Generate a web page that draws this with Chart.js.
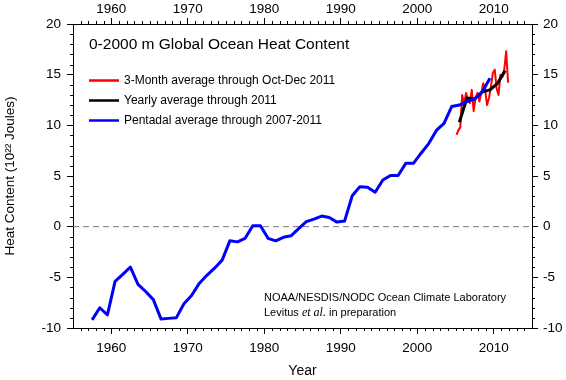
<!DOCTYPE html>
<html>
<head>
<meta charset="utf-8">
<title>0-2000 m Global Ocean Heat Content</title>
<script src="https://cdn.jsdelivr.net/npm/chart.js@4.4.1/dist/chart.umd.min.js"></script>
<style>
    html, body { margin: 0; padding: 0; background: #fff; }
    #wrap { width: 566px; height: 380px; }
</style>
</head>
<body>
<div id="wrap"><canvas id="ohcChart" width="566" height="380"></canvas></div>
<script>
// Pentadal average (centre of each 5-year window)
const pentadYears = [
    1957.5, 1958.5, 1959.5, 1960.5, 1961.5, 1962.5, 1963.5, 1964.5, 1965.5, 1966.5,
    1967.5, 1968.5, 1969.5, 1970.5, 1971.5, 1972.5, 1973.5, 1974.5, 1975.5, 1976.5,
    1977.5, 1978.5, 1979.5, 1980.5, 1981.5, 1982.5, 1983.5, 1984.5, 1985.5, 1986.5,
    1987.5, 1988.5, 1989.5, 1990.5, 1991.5, 1992.5, 1993.5, 1994.5, 1995.5, 1996.5,
    1997.5, 1998.5, 1999.5, 2000.5, 2001.5, 2002.5, 2003.5, 2004.5, 2005.5, 2006.5,
    2007.5, 2008.5, 2009.5
];
const pentadValues = [
    -9.2, -8.0, -8.7, -5.4, -4.7, -4.0, -5.7, -6.4, -7.2, -9.1,
    -9.05, -9.0, -7.6, -6.8, -5.6, -4.8, -4.1, -3.3, -1.4, -1.5,
    -1.15, 0.1, 0.1, -1.15, -1.4, -1.05, -0.9, -0.2, 0.5, 0.75,
    1.05, 0.9, 0.45, 0.55, 3.05, 3.95, 3.9, 3.4, 4.6, 5.05,
    5.05, 6.25, 6.25, 7.25, 8.2, 9.5, 10.2, 11.85, 12.0, 12.35,
    12.6, 13.3, 14.65
];

// Yearly average
const yearlyYears = [2005.5, 2006.5, 2007.5, 2008.5, 2009.5, 2010.5, 2011.5];
const yearlyValues = [10.3, 12.7, 12.6, 13.3, 13.5, 14.15, 15.4];

// 3-month average
const quarterYears = [
    2005.125, 2005.375, 2005.625, 2005.875, 2006.125, 2006.375, 2006.625, 2006.875,
    2007.125, 2007.375, 2007.625, 2007.875, 2008.125, 2008.375, 2008.625, 2008.875,
    2009.125, 2009.375, 2009.625, 2009.875, 2010.125, 2010.375, 2010.625, 2010.875,
    2011.125, 2011.375, 2011.625, 2011.875
];
const quarterValues = [
    9.05, 9.5, 9.8, 13.0, 12.0, 13.2, 12.5, 12.2,
    13.5, 11.4, 12.7, 13.2, 12.35, 13.2, 14.15, 13.5,
    12.0, 12.7, 13.8, 15.15, 15.5, 13.65, 13.0, 15.0,
    14.8, 15.5, 17.3, 14.2
];

const xTickValues = [1960, 1970, 1980, 1990, 2000, 2010];
const yTickValues = [-10, -5, 0, 5, 10, 15, 20];

const titleText = '0-2000 m Global Ocean Heat Content';
const legendLabels = [
    '3-Month average through Oct-Dec 2011',
    'Yearly average through 2011',
    'Pentadal average through 2007-2011'
];
const legendColors = ['#ff0000', '#000000', '#0000ff'];
const creditLine = 'NOAA/NESDIS/NODC Ocean Climate Laboratory';

const FONT = '"Liberation Sans", Arial, Helvetica, sans-serif';
const X_MIN = 1955, X_MAX = 2015, Y_MIN = -10, Y_MAX = 20;

function toPoints(xs, ys) {
    return xs.map((x, i) => ({ x: x, y: ys[i] }));
}

// minor ticks every year / every unit, drawn outward like the major ones
const minorTicks = {
    id: 'minorTicks',
    afterDraw(chart) {
        const ctx = chart.ctx;
        const area = chart.chartArea;
        const xs = chart.scales.x;
        const ys = chart.scales.y;
        ctx.save();
        ctx.strokeStyle = '#000';
        ctx.lineWidth = 1;
        ctx.beginPath();
        for (let yr = X_MIN + 1; yr < X_MAX; yr++) {
            if (yr % 10 === 0) continue;
            const px = Math.round(xs.getPixelForValue(yr)) + 0.5;
            ctx.moveTo(px, area.bottom); ctx.lineTo(px, area.bottom + 3);
            ctx.moveTo(px, area.top); ctx.lineTo(px, area.top - 3);
        }
        for (let v = Y_MIN + 1; v < Y_MAX; v++) {
            if (v % 5 === 0) continue;
            const py = Math.round(ys.getPixelForValue(v)) + 0.5;
            ctx.moveTo(area.left, py); ctx.lineTo(area.left - 3, py);
            ctx.moveTo(area.right, py); ctx.lineTo(area.right + 3, py);
        }
        ctx.stroke();
        ctx.restore();
    }
};

// title, legend and credit text inside the plot box
const notes = {
    id: 'notes',
    afterDraw(chart) {
        const ctx = chart.ctx;
        const area = chart.chartArea;
        ctx.save();
        ctx.fillStyle = '#000';
        ctx.textBaseline = 'middle';
        ctx.textAlign = 'left';

        ctx.font = '15.5px ' + FONT;
        ctx.fillText(titleText, area.left + 16, 45);

        legendLabels.forEach((label, i) => {
            const y = 80.5 + i * 20;
            ctx.strokeStyle = legendColors[i];
            ctx.lineWidth = 2.5;
            ctx.beginPath();
            ctx.moveTo(area.left + 16, y);
            ctx.lineTo(area.left + 46, y);
            ctx.stroke();
            ctx.font = '12px ' + FONT;
            ctx.fillText(label, area.left + 51, y);
        });

        ctx.font = '11px ' + FONT;
        const cx = 264;
        ctx.fillText(creditLine, cx, 298);
        let x = cx;
        ctx.fillText('Levitus ', x, 313);
        x += ctx.measureText('Levitus ').width;
        ctx.font = 'italic 12px "Liberation Serif", "Times New Roman", serif';
        ctx.fillText('et al.', x, 313);
        x += ctx.measureText('et al.').width;
        ctx.font = '11px ' + FONT;
        ctx.fillText(' in preparation', x, 313);
        ctx.restore();
    }
};

const tickFont = { family: FONT, size: 13.5 };

function xAxis(position, height, showTitle, pad) {
    return {
        type: 'linear',
        position: position,
        min: X_MIN,
        max: X_MAX,
        afterBuildTicks: s => { s.ticks = xTickValues.map(v => ({ value: v })); },
        afterFit: s => { s.height = height; },
        ticks: { color: '#000', font: tickFont, padding: pad, maxRotation: 0, autoSkip: false, callback: v => String(v) },
        grid: { drawOnChartArea: false, tickLength: 6, tickColor: '#000', color: '#000' },
        border: { display: true, color: '#000', width: 1 },
        title: {
            display: showTitle,
            text: 'Year',
            color: '#000',
            font: { family: FONT, size: 14 },
            padding: { top: 0, bottom: 0 }
        }
    };
}

function yAxis(position, width, showTitle, pad) {
    return {
        type: 'linear',
        position: position,
        min: Y_MIN,
        max: Y_MAX,
        afterBuildTicks: s => { s.ticks = yTickValues.map(v => ({ value: v })); },
        afterFit: s => { s.width = width; },
        ticks: { color: '#000', font: tickFont, padding: pad, autoSkip: false, callback: v => String(v) },
        grid: { drawOnChartArea: false, tickLength: 6, tickColor: '#000', color: '#000' },
        border: { display: true, color: '#000', width: 1 },
        title: {
            display: showTitle,
            text: 'Heat Content (10\u00B2\u00B2 Joules)',
            color: '#000',
            font: { family: FONT, size: 13.5 },
            padding: { top: 2, bottom: 0 }
        }
    };
}

const ctx = document.getElementById('ohcChart').getContext('2d');
new Chart(ctx, {
    type: 'line',
    data: {
        datasets: [
            {
                label: 'Pentadal average through 2007-2011',
                data: toPoints(pentadYears, pentadValues),
                borderColor: '#0000ff',
                borderWidth: 3,
                pointRadius: 0,
                tension: 0,
                borderJoinStyle: 'round'
            },
            {
                label: 'Yearly average through 2011',
                data: toPoints(yearlyYears, yearlyValues),
                borderColor: '#000000',
                borderWidth: 3,
                pointRadius: 0,
                tension: 0,
                borderJoinStyle: 'round'
            },
            {
                label: '3-Month average through Oct-Dec 2011',
                data: toPoints(quarterYears, quarterValues),
                borderColor: '#ff0000',
                borderWidth: 2,
                pointRadius: 0,
                tension: 0,
                borderJoinStyle: 'round'
            },
            {
                label: 'zero',
                data: toPoints([X_MIN, X_MAX], [0, 0]),
                borderColor: '#777777',
                borderWidth: 1,
                borderDash: [6, 4],
                pointRadius: 0
            }
        ]
    },
    options: {
        responsive: false,
        animation: false,
        layout: { padding: 0 },
        plugins: {
            legend: { display: false },
            tooltip: { enabled: false }
        },
        scales: {
            x: xAxis('bottom', 52, true, 6),
            xTop: xAxis('top', 24, false, 1),
            y: yAxis('left', 73, true, 6),
            yRight: yAxis('right', 34, false, 5)
        }
    },
    plugins: [minorTicks, notes]
});
</script>
</body>
</html>
